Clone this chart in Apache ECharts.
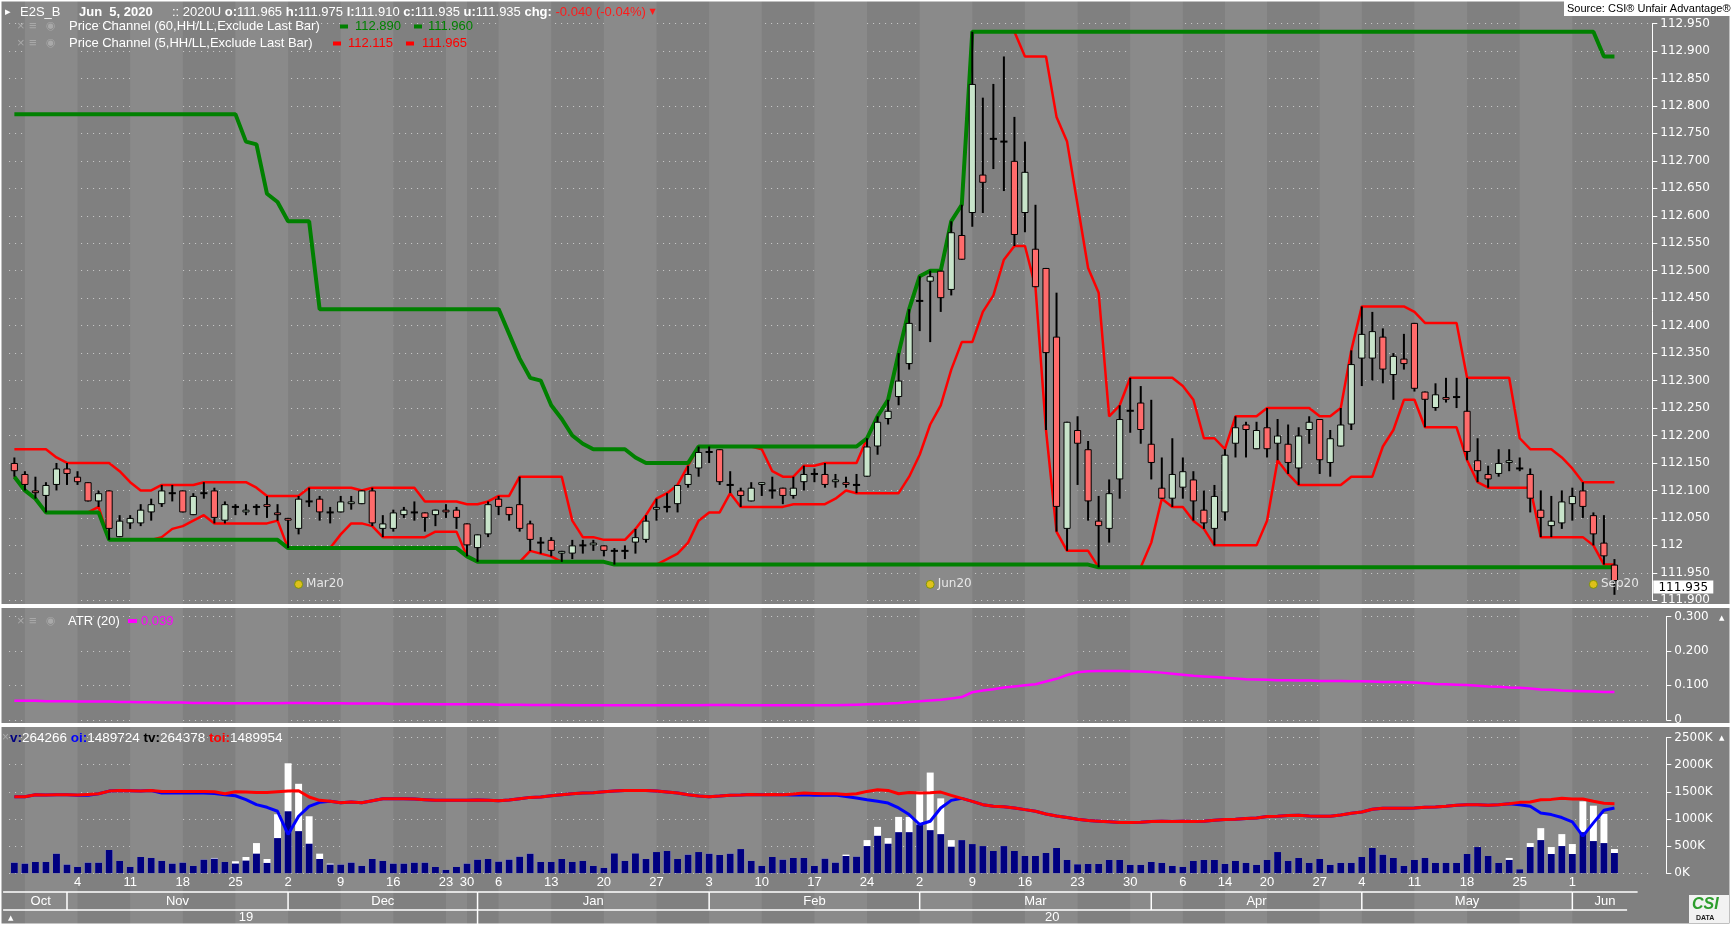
<!DOCTYPE html>
<html>
<head>
<meta charset="utf-8">
<script src="https://cdn.jsdelivr.net/npm/echarts@6/dist/echarts.min.js"></script>
<style>
html,body{margin:0;padding:0;background:#808080;overflow:hidden;}
#chart{width:1731px;height:925px;}
</style>
</head>
<body>
<div id="chart"></div>
<script>
// ================= DATA =================
const tradingDays = {
  '2019-10': [25,28,29,30,31],
  '2019-11': [1,4,5,6,7,8,11,12,13,14,15,18,19,20,21,22,25,26,27,28,29],
  '2019-12': [2,3,4,5,6,9,10,11,12,13,16,17,18,19,20,23,27,30],
  '2020-01': [2,3,6,7,8,9,10,13,14,15,16,17,20,21,22,23,24,27,28,29,30,31],
  '2020-02': [3,4,5,6,7,10,11,12,13,14,17,18,19,20,21,24,25,26,27,28],
  '2020-03': [2,3,4,5,6,9,10,11,12,13,16,17,18,19,20,23,24,25,26,27,30,31],
  '2020-04': [1,2,3,6,7,8,9,14,15,16,17,20,21,22,23,24,27,28,29,30],
  '2020-05': [4,5,6,7,8,11,12,13,14,15,18,19,20,21,22,25,26,27,28,29],
  '2020-06': [1,2,3,4,5]
};
const dates = [];
Object.keys(tradingDays).forEach(ym => tradingDays[ym].forEach(d => dates.push(ym + '-' + String(d).padStart(2, '0'))));

const opens = [
112.150,112.130,112.100,112.090,112.110,112.140,112.125,112.115,112.080,112.100,
112.015,112.040,112.040,112.060,112.075,112.095,112.100,112.055,112.095,112.100,
112.045,112.070,112.060,112.070,112.075,112.060,112.050,112.030,112.080,112.085,
112.060,112.060,112.075,112.075,112.100,112.030,112.030,112.055,112.060,112.060,
112.055,112.065,112.065,112.040,111.995,112.020,112.085,112.070,112.075,112.040,
112.005,112.010,111.985,111.985,112.000,112.000,112.000,111.990,111.990,112.005,
112.010,112.065,112.070,112.075,112.110,112.140,112.170,112.175,112.110,112.100,
112.080,112.110,112.100,112.105,112.090,112.115,112.130,112.130,112.115,112.115,
112.110,112.125,112.180,112.230,112.270,112.330,112.445,112.480,112.500,112.465,
112.565,112.605,112.675,112.740,112.735,112.700,112.605,112.540,112.505,112.380,
112.030,112.210,112.175,112.045,112.030,112.120,112.245,112.260,112.185,112.105,
112.085,112.105,112.120,112.065,112.030,112.060,112.185,112.220,112.175,112.215,
112.185,112.185,112.140,112.210,112.230,112.150,112.180,112.220,112.340,112.340,
112.380,112.310,112.340,112.405,112.280,112.250,112.270,112.270,112.245,112.155,
112.130,112.130,112.150,112.140,112.130,112.065,112.035,112.040,112.075,112.100,
112.055,112.005,111.965];
const highs = [
112.160,112.135,112.125,112.115,112.150,112.150,112.135,112.115,112.100,112.100,
112.055,112.055,112.075,112.085,112.110,112.110,112.100,112.095,112.115,112.105,
112.080,112.075,112.075,112.075,112.090,112.075,112.050,112.090,112.105,112.090,
112.070,112.090,112.090,112.100,112.105,112.055,112.065,112.070,112.080,112.060,
112.065,112.075,112.070,112.040,112.020,112.080,112.090,112.070,112.125,112.045,
112.015,112.015,111.990,112.010,112.010,112.010,112.000,111.995,112.000,112.030,
112.055,112.085,112.095,112.110,112.145,112.180,112.180,112.175,112.135,112.105,
112.115,112.115,112.125,112.105,112.125,112.145,112.140,112.150,112.130,112.125,
112.130,112.195,112.235,112.265,112.350,112.430,112.490,112.500,112.500,112.590,
112.620,112.935,112.815,112.840,112.890,112.780,112.735,112.620,112.505,112.460,
112.225,112.235,112.190,112.090,112.120,112.255,112.305,112.290,112.265,112.160,
112.195,112.160,112.135,112.100,112.110,112.175,112.235,112.225,112.225,112.250,
112.230,112.220,112.215,112.235,112.230,112.210,112.250,112.355,112.435,112.425,
112.395,112.350,112.385,112.405,112.280,112.295,112.305,112.305,112.305,112.195,
112.145,112.175,112.175,112.160,112.140,112.100,112.090,112.100,112.105,112.115,
112.060,112.055,111.975];
const lows = [
112.125,112.100,112.085,112.060,112.100,112.110,112.110,112.080,112.070,112.010,
112.015,112.030,112.035,112.045,112.070,112.080,112.060,112.055,112.085,112.040,
112.040,112.055,112.055,112.055,112.050,112.045,111.995,112.020,112.070,112.045,
112.040,112.060,112.065,112.075,112.035,112.015,112.025,112.050,112.045,112.025,
112.035,112.050,112.030,111.980,111.970,112.015,112.055,112.045,112.025,111.990,
111.985,111.980,111.970,111.975,111.985,111.990,111.980,111.965,111.975,111.985,
112.005,112.045,112.060,112.060,112.105,112.125,112.150,112.110,112.095,112.070,
112.080,112.090,112.085,112.075,112.085,112.100,112.115,112.105,112.105,112.105,
112.095,112.125,112.165,112.220,112.255,112.320,112.390,112.370,112.425,112.455,
112.520,112.580,112.605,112.685,112.645,112.545,112.570,112.470,112.210,112.025,
111.990,112.110,112.045,111.960,112.005,112.085,112.205,112.185,112.120,112.085,
112.070,112.085,112.045,112.030,112.000,112.045,112.160,112.160,112.175,112.160,
112.155,112.130,112.110,112.185,112.130,112.125,112.180,112.210,112.290,112.300,
112.295,112.265,112.320,112.280,112.215,112.245,112.260,112.250,112.155,112.115,
112.105,112.125,112.135,112.135,112.060,112.015,112.015,112.030,112.045,112.050,
112.000,111.965,111.910];
const closes = [
112.135,112.110,112.095,112.110,112.140,112.130,112.115,112.080,112.095,112.030,
112.045,112.050,112.065,112.075,112.100,112.095,112.060,112.090,112.095,112.050,
112.075,112.070,112.065,112.070,112.070,112.055,112.045,112.085,112.080,112.060,
112.060,112.080,112.080,112.100,112.040,112.040,112.060,112.065,112.060,112.050,
112.065,112.060,112.050,112.000,112.020,112.075,112.070,112.055,112.030,112.010,
112.005,111.990,111.990,112.000,112.000,112.005,111.990,111.990,111.990,112.015,
112.045,112.070,112.070,112.110,112.130,112.170,112.170,112.115,112.110,112.090,
112.105,112.115,112.100,112.090,112.105,112.130,112.130,112.110,112.120,112.110,
112.110,112.180,112.225,112.245,112.300,112.405,112.445,112.490,112.450,112.570,
112.520,112.840,112.660,112.740,112.735,112.565,112.680,112.470,112.350,112.070,
112.225,112.185,112.080,112.035,112.095,112.230,112.245,112.210,112.150,112.085,
112.130,112.135,112.080,112.040,112.090,112.165,112.215,112.210,112.210,112.175,
112.200,112.150,112.200,112.225,112.155,112.195,112.220,112.330,112.385,112.390,
112.320,112.345,112.330,112.285,112.265,112.275,112.265,112.270,112.170,112.135,
112.120,112.150,112.155,112.140,112.085,112.050,112.045,112.080,112.090,112.070,
112.020,111.980,111.935];

// Price Channel (60)
const channel60High = [
112.785,112.785,112.785,112.785,112.785,112.785,112.785,112.785,112.785,112.785,
112.785,112.785,112.785,112.785,112.785,112.785,112.785,112.785,112.785,112.785,
112.785,112.785,112.735,112.730,112.640,112.625,112.590,112.590,112.590,112.430,
112.430,112.430,112.430,112.430,112.430,112.430,112.430,112.430,112.430,112.430,
112.430,112.430,112.430,112.430,112.430,112.430,112.430,112.385,112.340,112.305,
112.300,112.255,112.230,112.200,112.185,112.175,112.175,112.175,112.175,112.160,
112.150,112.150,112.150,112.150,112.150,112.180,112.180,112.180,112.180,112.180,
112.180,112.180,112.180,112.180,112.180,112.180,112.180,112.180,112.180,112.180,
112.180,112.195,112.235,112.265,112.350,112.430,112.490,112.500,112.500,112.590,
112.620,112.935,112.935,112.935,112.935,112.935,112.935,112.935,112.935,112.935,
112.935,112.935,112.935,112.935,112.935,112.935,112.935,112.935,112.935,112.935,
112.935,112.935,112.935,112.935,112.935,112.935,112.935,112.935,112.935,112.935,
112.935,112.935,112.935,112.935,112.935,112.935,112.935,112.935,112.935,112.935,
112.935,112.935,112.935,112.935,112.935,112.935,112.935,112.935,112.935,112.935,
112.935,112.935,112.935,112.935,112.935,112.935,112.935,112.935,112.935,112.935,
112.935,112.890,112.890];
const channel60Low = [
112.125,112.100,112.085,112.060,112.060,112.060,112.060,112.060,112.060,112.010,
112.010,112.010,112.010,112.010,112.010,112.010,112.010,112.010,112.010,112.010,
112.010,112.010,112.010,112.010,112.010,112.010,111.995,111.995,111.995,111.995,
111.995,111.995,111.995,111.995,111.995,111.995,111.995,111.995,111.995,111.995,
111.995,111.995,111.995,111.980,111.970,111.970,111.970,111.970,111.970,111.970,
111.970,111.970,111.970,111.970,111.970,111.970,111.970,111.965,111.965,111.965,
111.965,111.965,111.965,111.965,111.965,111.965,111.965,111.965,111.965,111.965,
111.965,111.965,111.965,111.965,111.965,111.965,111.965,111.965,111.965,111.965,
111.965,111.965,111.965,111.965,111.965,111.965,111.965,111.965,111.965,111.965,
111.965,111.965,111.965,111.965,111.965,111.965,111.965,111.965,111.965,111.965,
111.965,111.965,111.965,111.960,111.960,111.960,111.960,111.960,111.960,111.960,
111.960,111.960,111.960,111.960,111.960,111.960,111.960,111.960,111.960,111.960,
111.960,111.960,111.960,111.960,111.960,111.960,111.960,111.960,111.960,111.960,
111.960,111.960,111.960,111.960,111.960,111.960,111.960,111.960,111.960,111.960,
111.960,111.960,111.960,111.960,111.960,111.960,111.960,111.960,111.960,111.960,
111.960,111.960,111.960];
// Price Channel (5)
const channel5High = [
112.175,112.175,112.175,112.175,112.160,112.150,112.150,112.150,112.150,112.150,
112.135,112.115,112.100,112.100,112.110,112.110,112.110,112.110,112.115,112.115,
112.115,112.115,112.115,112.105,112.090,112.090,112.090,112.090,112.105,112.105,
112.105,112.105,112.105,112.100,112.105,112.105,112.105,112.105,112.105,112.080,
112.080,112.080,112.080,112.075,112.075,112.080,112.090,112.090,112.125,112.125,
112.125,112.125,112.125,112.045,112.015,112.015,112.010,112.010,112.010,112.030,
112.055,112.085,112.095,112.110,112.145,112.180,112.180,112.180,112.180,112.180,
112.180,112.175,112.135,112.125,112.125,112.145,112.145,112.150,112.150,112.150,
112.150,112.195,112.235,112.265,112.350,112.430,112.490,112.500,112.500,112.590,
112.620,112.935,112.935,112.935,112.935,112.935,112.890,112.890,112.890,112.780,
112.735,112.620,112.505,112.460,112.235,112.255,112.305,112.305,112.305,112.305,
112.305,112.290,112.265,112.195,112.195,112.175,112.235,112.235,112.235,112.250,
112.250,112.250,112.250,112.250,112.235,112.235,112.250,112.355,112.435,112.435,
112.435,112.435,112.435,112.425,112.405,112.405,112.405,112.405,112.305,112.305,
112.305,112.305,112.305,112.195,112.175,112.175,112.175,112.160,112.140,112.115,
112.115,112.115,112.115];
const channel5Low = [
112.125,112.100,112.085,112.060,112.060,112.060,112.060,112.060,112.070,112.010,
112.010,112.010,112.010,112.010,112.015,112.030,112.035,112.045,112.055,112.040,
112.040,112.040,112.040,112.040,112.040,112.045,111.995,111.995,111.995,111.995,
111.995,112.020,112.040,112.040,112.035,112.015,112.015,112.015,112.015,112.015,
112.025,112.025,112.025,111.980,111.970,111.970,111.970,111.970,111.970,111.990,
111.985,111.980,111.970,111.970,111.970,111.970,111.970,111.965,111.965,111.965,
111.965,111.965,111.975,111.985,112.005,112.045,112.060,112.060,112.095,112.070,
112.070,112.070,112.070,112.070,112.075,112.075,112.075,112.075,112.085,112.100,
112.095,112.095,112.095,112.095,112.095,112.125,112.165,112.220,112.255,112.320,
112.370,112.370,112.425,112.455,112.520,112.545,112.545,112.470,112.210,112.025,
111.990,111.990,111.990,111.960,111.960,111.960,111.960,111.960,112.005,112.085,
112.070,112.070,112.045,112.030,112.000,112.000,112.000,112.000,112.000,112.045,
112.155,112.130,112.110,112.110,112.110,112.110,112.110,112.125,112.125,112.125,
112.180,112.210,112.265,112.265,112.215,112.215,112.215,112.215,112.155,112.115,
112.105,112.105,112.105,112.105,112.105,112.015,112.015,112.015,112.015,112.015,
112.000,111.965,111.965];

// ATR(20)
const atr20 = [
0.055,0.055,0.055,0.054,0.054,0.054,0.053,0.053,0.053,0.053,
0.052,0.052,0.051,0.051,0.050,0.050,0.050,0.049,0.049,0.049,
0.048,0.048,0.048,0.048,0.048,0.048,0.049,0.049,0.049,0.048,
0.048,0.048,0.047,0.047,0.047,0.047,0.046,0.046,0.046,0.046,
0.045,0.045,0.045,0.045,0.045,0.045,0.044,0.044,0.044,0.043,
0.043,0.043,0.043,0.042,0.042,0.042,0.042,0.042,0.042,0.042,
0.042,0.042,0.042,0.042,0.042,0.042,0.043,0.043,0.043,0.042,
0.042,0.042,0.042,0.042,0.042,0.042,0.042,0.042,0.042,0.043,
0.044,0.045,0.046,0.047,0.049,0.052,0.054,0.056,0.058,0.062,
0.066,0.080,0.085,0.089,0.094,0.097,0.100,0.103,0.111,0.119,
0.130,0.138,0.141,0.142,0.142,0.142,0.141,0.140,0.139,0.137,
0.134,0.131,0.128,0.126,0.124,0.122,0.120,0.118,0.117,0.116,
0.115,0.115,0.114,0.114,0.113,0.113,0.113,0.112,0.112,0.111,
0.110,0.110,0.109,0.108,0.106,0.104,0.103,0.102,0.101,0.099,
0.097,0.096,0.094,0.093,0.091,0.088,0.087,0.085,0.084,0.083,
0.082,0.081,0.081];

// Volume (K): contract volume and total volume
const volume = [
195,177,207,207,360,159,116,195,195,427,
226,116,299,281,226,177,195,134,250,268,
207,177,232,360,189,647,1141,775,543,262,
159,159,195,134,262,226,177,177,195,195,
116,61,116,177,250,262,214,250,305,360,
207,207,262,207,226,134,98,366,226,366,
262,390,409,262,342,390,360,336,360,445,
226,134,299,250,281,281,134,268,195,317,
305,500,689,543,756,756,897,793,720,488,
610,537,500,409,500,409,317,317,372,464,
244,165,171,171,244,244,153,153,207,189,
134,116,226,244,244,171,226,189,153,244,
390,226,281,189,262,153,189,189,299,464,
342,281,134,244,281,189,189,189,354,482,
317,189,244,73,482,610,354,500,354,756,
592,555,372];
const totalVolume = [
195,177,207,207,360,159,116,195,195,427,
226,116,299,281,226,177,195,134,250,281,
207,220,299,555,262,1086,2025,1647,1049,360,
177,159,195,134,262,226,177,177,195,195,
116,61,116,177,250,262,214,250,305,360,
207,207,262,207,226,134,98,366,226,366,
262,390,409,262,342,390,360,336,360,445,
226,134,299,250,281,281,134,268,195,342,
305,610,854,647,1037,1037,1507,1854,1379,610,
610,537,500,409,500,409,317,317,372,464,
244,165,171,171,244,244,153,153,207,189,
134,116,226,244,244,171,226,189,153,244,
390,226,281,189,262,153,189,189,299,464,
342,281,134,244,281,189,189,189,354,482,
317,189,281,73,555,830,482,720,537,1324,
1244,1092,445];
// Open interest (K): contract OI and total OI
const openInterest = [
1640,1640,1683,1676,1683,1683,1669,1669,1704,1761,
1775,1768,1761,1775,1718,1718,1718,1718,1718,1711,
1683,1661,1576,1470,1413,1328,831,1221,1434,1519,
1541,1512,1527,1512,1555,1598,1598,1598,1590,1576,
1562,1562,1562,1562,1569,1562,1555,1569,1598,1626,
1633,1661,1683,1704,1718,1725,1747,1761,1775,1775,
1775,1761,1740,1718,1683,1654,1640,1654,1669,1676,
1690,1683,1690,1683,1676,1683,1669,1669,1676,1647,
1612,1576,1541,1505,1399,1257,1044,1115,1399,1562,
1605,1541,1470,1434,1427,1399,1363,1328,1271,1228,
1193,1157,1129,1115,1101,1086,1086,1093,1108,1115,
1108,1115,1108,1115,1136,1150,1157,1172,1186,1214,
1221,1235,1243,1228,1221,1221,1250,1285,1314,1370,
1392,1392,1392,1399,1413,1420,1434,1456,1470,1470,
1456,1470,1491,1470,1434,1292,1257,1193,1101,795,
1079,1349,1399];
const totalOpenInterest = [
1640,1640,1683,1676,1683,1683,1676,1690,1704,1761,
1775,1768,1761,1775,1754,1754,1754,1754,1754,1747,
1704,1747,1740,1732,1732,1747,1761,1768,1633,1562,
1541,1512,1527,1512,1555,1598,1598,1598,1590,1576,
1562,1562,1562,1562,1569,1562,1555,1569,1598,1626,
1633,1661,1683,1704,1718,1725,1747,1761,1775,1775,
1775,1761,1740,1718,1683,1654,1640,1654,1669,1676,
1690,1683,1690,1683,1697,1718,1711,1704,1704,1690,
1704,1754,1789,1775,1704,1732,1718,1725,1740,1669,
1605,1541,1470,1434,1427,1399,1363,1328,1271,1228,
1193,1157,1129,1115,1101,1086,1086,1093,1108,1115,
1108,1115,1108,1115,1136,1150,1157,1172,1186,1214,
1221,1235,1243,1228,1221,1221,1250,1285,1314,1370,
1392,1392,1392,1399,1413,1420,1434,1456,1470,1470,
1456,1470,1491,1519,1527,1576,1583,1605,1590,1590,
1541,1498,1491];

// Axis / annotation definitions
const dayTickIdx = [6,11,16,21,26,31,36,41,43,46,51,56,61,66,71,76,81,86,91,96,101,106,111,115,119,124,128,133,138,143,148];
const lightWeeks = [[1,6],[11,16],[21,26],[31,36],[41,43],[46,51],[56,61],[66,71],[76,81],[86,91],[96,101],[106,111],[115,119],[124,128],[133,138],[143,148]];
const monthNames = ['Oct','Nov','Dec','Jan','Feb','Mar','Apr','May','Jun'];
const monthStart = [0,5,26,44,66,86,108,128,148];
const monthEnd   = [5,26,44,66,86,108,128,148,154.2];
const yearNames = ['19','20'];
const yearStart = [0,44];
const yearEnd = [44,153.2];
const contractNames = ['Mar20','Jun20','Sep20'];
const contractIdx = [27,87,150];
const contractLevel = 111.929;
const priceTicks = {min:111.9, max:112.95, step:0.05};

// ================= CHART =================
const cats = dates.concat(['pad1','pad2','pad3']);
const SANS = '"Liberation Sans", Arial, sans-serif';
const AXF = '"DejaVu Sans", Verdana, sans-serif';
const UP = '#c8e4ca', DOWN = '#ff6b6b';
const GL = 9.1, GR = 79.7;

function xAt(api, v){
  const f = Math.floor(v);
  return api.coord([f, 0])[0] + (v - f) * api.size([1, 0])[0];
}

function renderCandle(params, api){
  const i = api.value(0), o = api.value(1), c = api.value(2), l = api.value(3), h = api.value(4);
  const pO = api.coord([i, o]), pC = api.coord([i, c]), pL = api.coord([i, l]), pH = api.coord([i, h]);
  const x = pO[0];
  const w = api.size([1, 0])[0] * 0.68;
  const children = [{type:'rect', shape:{x:x-1, y:pH[1], width:2, height:Math.max(pL[1]-pH[1], 1)}, style:{fill:'#000'}}];
  if (o === c) {
    children.push({type:'rect', shape:{x:x-w/2, y:pO[1]-1, width:w, height:2}, style:{fill:'#000'}});
  } else {
    const top = Math.min(pO[1], pC[1]);
    const ht = Math.max(Math.abs(pO[1]-pC[1]), 2.5);
    children.push({type:'rect', shape:{x:x-w/2+0.5, y:top+0.5, width:w-1, height:ht-1},
      style:{fill: c > o ? UP : DOWN, stroke:'#000', lineWidth:1}});
  }
  return {type:'group', children};
}

function renderPriceTag(params, api){
  const cs = params.coordSys;
  const p = api.coord([api.value(0), api.value(1)]);
  const x = cs.x + cs.width + 2, y = p[1] + 6;
  return {type:'group', children:[
    {type:'rect', shape:{x:x, y:y-6.5, width:60, height:13}, style:{fill:'#fff'}},
    {type:'text', x:x+30, y:y+0.5, style:{text:api.value(1).toFixed(3), fill:'#000', font:'12px "DejaVu Sans", Verdana, sans-serif', align:'center', verticalAlign:'middle'}}
  ]};
}

function renderStripe(params, api){
  const cs = params.coordSys;
  const x0 = xAt(api, api.value(0)), x1 = xAt(api, api.value(1));
  return {type:'rect', shape:{x:x0, y:cs.y+1, width:x1-x0, height:cs.height-2}, style:{fill:'#8a8a8a'}};
}

function renderSpan(names, rowTop, rowBottom){
  return function(params, api){
    const cs = params.coordSys;
    const k = api.value(2);
    const x0 = xAt(api, api.value(0)), x1 = xAt(api, api.value(1));
    const y0 = cs.y + rowTop, y1 = cs.y + rowBottom;
    const children = [];
    children.push({type:'line', shape:{x1:(k === 0 ? cs.x - 6 : x0), y1:y0, x2:x1, y2:y0}, style:{stroke:'#fff', lineWidth:1.5}});
    if (k > 0) children.push({type:'line', shape:{x1:x0, y1:y0, x2:x0, y2:y1}, style:{stroke:'#fff', lineWidth:1.5}});
    children.push({type:'text', x:(x0+x1)/2, y:(y0+y1)/2+0.5,
      style:{text:names[k], fill:'#fff', font:'13px ' + SANS, align:'center', verticalAlign:'middle'}});
    return {type:'group', children};
  };
}

const candleData = dates.map((d, i) => [i, opens[i], closes[i], lows[i], highs[i]]);
const lastIdx = closes.length - 1;
const lastClose = closes[lastIdx];

const hiddenX = idx => ({type:'category', gridIndex:idx, data:cats, boundaryGap:true, show:false});
const gridBase = {left:GL, right:GR, containLabel:false, outerBoundsMode:'none'};

const txt = (x, y, text, fill, font, extra) => Object.assign({type:'text', x, y, z:120,
  style:{text, fill, font, verticalAlign:'middle'}}, extra || {});
const ICON = '#a9a9a9';
function icons(y){
  return [txt(17, y, '×', ICON, '13px ' + SANS), txt(29, y, '≡', ICON, '13px ' + SANS), txt(46, y, '◉', ICON, '11px ' + AXF)];
}

const graphics = [
  {type:'rect', z:110, shape:{x:0, y:604, width:1731, height:4}, style:{fill:'#fff'}},
  {type:'rect', z:110, shape:{x:0, y:723, width:1731, height:4}, style:{fill:'#fff'}},
  {type:'rect', z:115, shape:{x:0.75, y:0.75, width:1729.5, height:923.5}, style:{fill:'none', stroke:'#fff', lineWidth:1.5}},
  // title row
  txt(5, 12, '▸', '#fff', '11px ' + AXF),
  txt(20, 12, 'E2S_B', '#fff', '13px ' + SANS),
  txt(79, 12, 'Jun  5, 2020', '#fff', 'bold 13px ' + SANS),
  {type:'text', x:172, y:12, z:120, style:{
    text:':: 2020U {b|o:}111.965 {b|h:}111.975 {b|l:}111.910 {b|c:}111.935 {b|u:}111.935 {b|chg:} {r|-0.040 (-0.04%)} {t|▼}',
    fill:'#fff', font:'13px ' + SANS, verticalAlign:'middle',
    rich:{b:{fill:'#fff', fontWeight:'bold', fontSize:13, fontFamily:SANS}, r:{fill:'#ff1a1a', fontSize:13, fontFamily:SANS}, t:{fill:'#ff1a1a', fontSize:8, fontFamily:AXF}}}},
  // source box
  {type:'rect', z:118, shape:{x:1564, y:1, width:166, height:15}, style:{fill:'#fff'}},
  txt(1567, 9, 'Source: CSI® Unfair Advantage®', '#000', '11px ' + SANS),
  // channel legends
  ...icons(26.5),
  txt(69, 26.5, 'Price Channel (60,HH/LL,Exclude Last Bar)', '#fff', '13px ' + SANS),
  {type:'rect', z:120, shape:{x:340, y:24.5, width:8, height:4}, style:{fill:'#008000'}},
  txt(355, 26.5, '112.890', '#008000', '13px ' + SANS),
  {type:'rect', z:120, shape:{x:414, y:24.5, width:8, height:4}, style:{fill:'#008000'}},
  txt(428, 26.5, '111.960', '#008000', '13px ' + SANS),
  ...icons(43.5),
  txt(69, 43.5, 'Price Channel (5,HH/LL,Exclude Last Bar)', '#fff', '13px ' + SANS),
  {type:'rect', z:120, shape:{x:333, y:41.5, width:8, height:4}, style:{fill:'#ff0000'}},
  txt(348, 43.5, '112.115', '#ff0000', '13px ' + SANS),
  {type:'rect', z:120, shape:{x:406, y:41.5, width:8, height:4}, style:{fill:'#ff0000'}},
  txt(422, 43.5, '111.965', '#ff0000', '13px ' + SANS),
  // ATR legend
  ...icons(621),
  txt(68, 621, 'ATR (20)', '#fff', '13px ' + SANS),
  {type:'rect', z:120, shape:{x:128, y:619, width:9, height:4}, style:{fill:'#ff00ff'}},
  txt(141, 621, '0.039', '#ff00ff', '13px ' + SANS),
  // volume legend
  txt(2, 738, '×', ICON, '12px ' + SANS),
  {type:'text', x:10, y:738, z:120, style:{
    text:'{v|v:}{w|264266} {o|oi:}{w|1489724} {t|tv:}{w|264378} {r|toi:}{w|1489954}',
    verticalAlign:'middle', font:'13.5px ' + SANS,
    rich:{v:{fill:'#000080', fontWeight:'bold', fontSize:13.5, fontFamily:SANS},
          o:{fill:'#0000ff', fontWeight:'bold', fontSize:13.5, fontFamily:SANS},
          t:{fill:'#000', fontWeight:'bold', fontSize:13.5, fontFamily:SANS},
          r:{fill:'#ff0000', fontWeight:'bold', fontSize:13.5, fontFamily:SANS},
          w:{fill:'#fff', fontSize:13.5, fontFamily:SANS}}}},
  // axis corner arrows
  txt(1719, 618, '▲', '#fff', '7px ' + AXF),
  txt(1719, 738, '▲', '#fff', '7px ' + AXF),
  txt(8, 918, '▲', '#fff', '7px ' + AXF),
  // logo
  {type:'rect', z:118, shape:{x:1689, y:895, width:40, height:28}, style:{fill:'#f2f2f2'}},
  txt(1692, 905, 'CSI', '#2e9e2e', 'bold italic 16px ' + SANS),
  txt(1696, 918, 'DATA', '#1a1a1a', 'bold 7px ' + SANS)
];

const lineS = (name, xi, yi, data, color, width, z, extra) => Object.assign({
  name, type:'line', xAxisIndex:xi, yAxisIndex:yi, data, symbol:'none', showSymbol:false,
  lineStyle:{color, width}, itemStyle:{color}, z, silent:true, animation:false}, extra || {});

const option = {
  backgroundColor:'#808080',
  animation:false,
  grid:[
    Object.assign({top:0, bottom:0}, gridBase),
    Object.assign({top:23.5, bottom:925-600.3}, gridBase),
    Object.assign({top:616.5, bottom:925-719.8}, gridBase),
    Object.assign({top:737.5, bottom:925-873.2}, gridBase),
    Object.assign({top:880, bottom:0}, gridBase)
  ],
  xAxis:[
    hiddenX(0), hiddenX(1), hiddenX(2),
    {type:'category', gridIndex:3, data:cats, boundaryGap:true,
      axisLine:{show:false}, axisTick:{show:false},
      axisLabel:{show:true, interval:(idx) => dayTickIdx.indexOf(idx) >= 0,
        formatter:(v) => String(Number(v.slice(8))), color:'#fff', fontFamily:SANS, fontSize:13, margin:3}},
    hiddenX(4)
  ],
  yAxis:[
    {type:'value', gridIndex:0, min:0, max:1, show:false},
    {type:'value', gridIndex:1, position:'right', min:priceTicks.min, max:priceTicks.max, interval:priceTicks.step, offset:1,
      axisLine:{show:true, lineStyle:{color:'#fff', width:1}}, axisTick:{show:true, length:5, lineStyle:{color:'#fff'}},
      axisLabel:{color:'#fff', fontFamily:AXF, fontSize:12, margin:8,
        formatter:(v) => Math.abs(v - 112) < 1e-6 ? '112' : v.toFixed(3)},
      splitLine:{show:true, lineStyle:{color:'#cdcdcd', type:[1,5], width:1}}},
    {type:'value', gridIndex:2, position:'right', min:0, max:0.3, interval:0.1, offset:15,
      axisLine:{show:true, lineStyle:{color:'#fff', width:1}}, axisTick:{show:true, length:5, lineStyle:{color:'#fff'}},
      axisLabel:{color:'#fff', fontFamily:AXF, fontSize:12, margin:8,
        formatter:(v) => v === 0 ? '0' : v.toFixed(3)},
      splitLine:{show:true, lineStyle:{color:'#cdcdcd', type:[1,5], width:1}}},
    {type:'value', gridIndex:3, position:'right', min:0, max:2500, interval:500, offset:15,
      axisLine:{show:true, lineStyle:{color:'#fff', width:1}}, axisTick:{show:true, length:5, lineStyle:{color:'#fff'}},
      axisLabel:{color:'#fff', fontFamily:AXF, fontSize:12, margin:8, formatter:(v) => v + 'K'},
      splitLine:{show:true, lineStyle:{color:'#cdcdcd', type:[1,5], width:1}}},
    {type:'value', gridIndex:3, min:0, max:2910, show:false},
    {type:'value', gridIndex:4, min:0, max:1, show:false}
  ],
  graphic:{elements:graphics},
  series:[
    {name:'weeks', type:'custom', xAxisIndex:0, yAxisIndex:0, renderItem:renderStripe, silent:true, z:0,
      encode:{x:0, y:-1}, data:lightWeeks.map(w => [w[0], w[1]])},
    lineS('PC5 HH', 1, 1, channel5High, '#ff0000', 2.5, 3),
    lineS('PC5 LL', 1, 1, channel5Low, '#ff0000', 2.5, 3),
    lineS('PC60 HH', 1, 1, channel60High, '#008000', 4, 4),
    lineS('PC60 LL', 1, 1, channel60Low, '#008000', 4, 4),
    {name:'E2S_B', type:'custom', xAxisIndex:1, yAxisIndex:1, renderItem:renderCandle, silent:true, z:5,
      encode:{x:0, y:[1,2,3,4]}, data:candleData},
    {name:'contracts', type:'scatter', xAxisIndex:1, yAxisIndex:1, z:6, silent:true, symbol:'circle', symbolSize:8,
      itemStyle:{color:'#f5d000', borderColor:'#6f8f00', borderWidth:1},
      label:{show:true, position:'right', distance:3, color:'#fff', fontFamily:AXF, fontSize:12,
        formatter:(p) => contractNames[p.dataIndex]},
      data:contractIdx.map(i => [i, contractLevel])},
    {name:'last', type:'custom', xAxisIndex:1, yAxisIndex:1, renderItem:renderPriceTag, silent:true, z:7,
      encode:{x:0, y:1}, data:[[lastIdx, lastClose]]},
    lineS('ATR', 2, 2, atr20, '#ff00ff', 2.5, 3),
    {name:'tv', type:'bar', xAxisIndex:3, yAxisIndex:3, data:totalVolume, barWidth:'66%', barGap:'-100%',
      itemStyle:{color:'#ffffff'}, z:2, silent:true},
    {name:'v', type:'bar', xAxisIndex:3, yAxisIndex:3, data:volume, barWidth:'66%', barGap:'-100%',
      itemStyle:{color:'#000080'}, z:3, silent:true},
    lineS('oi', 3, 4, openInterest, '#0000ff', 3, 4),
    lineS('toi', 3, 4, totalOpenInterest, '#ff0000', 3, 5),
    {name:'months', type:'custom', xAxisIndex:4, yAxisIndex:5, silent:true, z:6,
      renderItem:renderSpan(monthNames, 12, 30), encode:{x:0, y:-1},
      data:monthNames.map((m, k) => [monthStart[k], monthEnd[k], k])},
    {name:'years', type:'custom', xAxisIndex:4, yAxisIndex:5, silent:true, z:6,
      renderItem:renderSpan(yearNames, 30, 44), encode:{x:0, y:-1},
      data:yearNames.map((m, k) => [yearStart[k], yearEnd[k], k])}
  ]
};

const chart = echarts.init(document.getElementById('chart'), null, {renderer:'canvas'});
chart.setOption(option);
</script>
</body>
</html>
